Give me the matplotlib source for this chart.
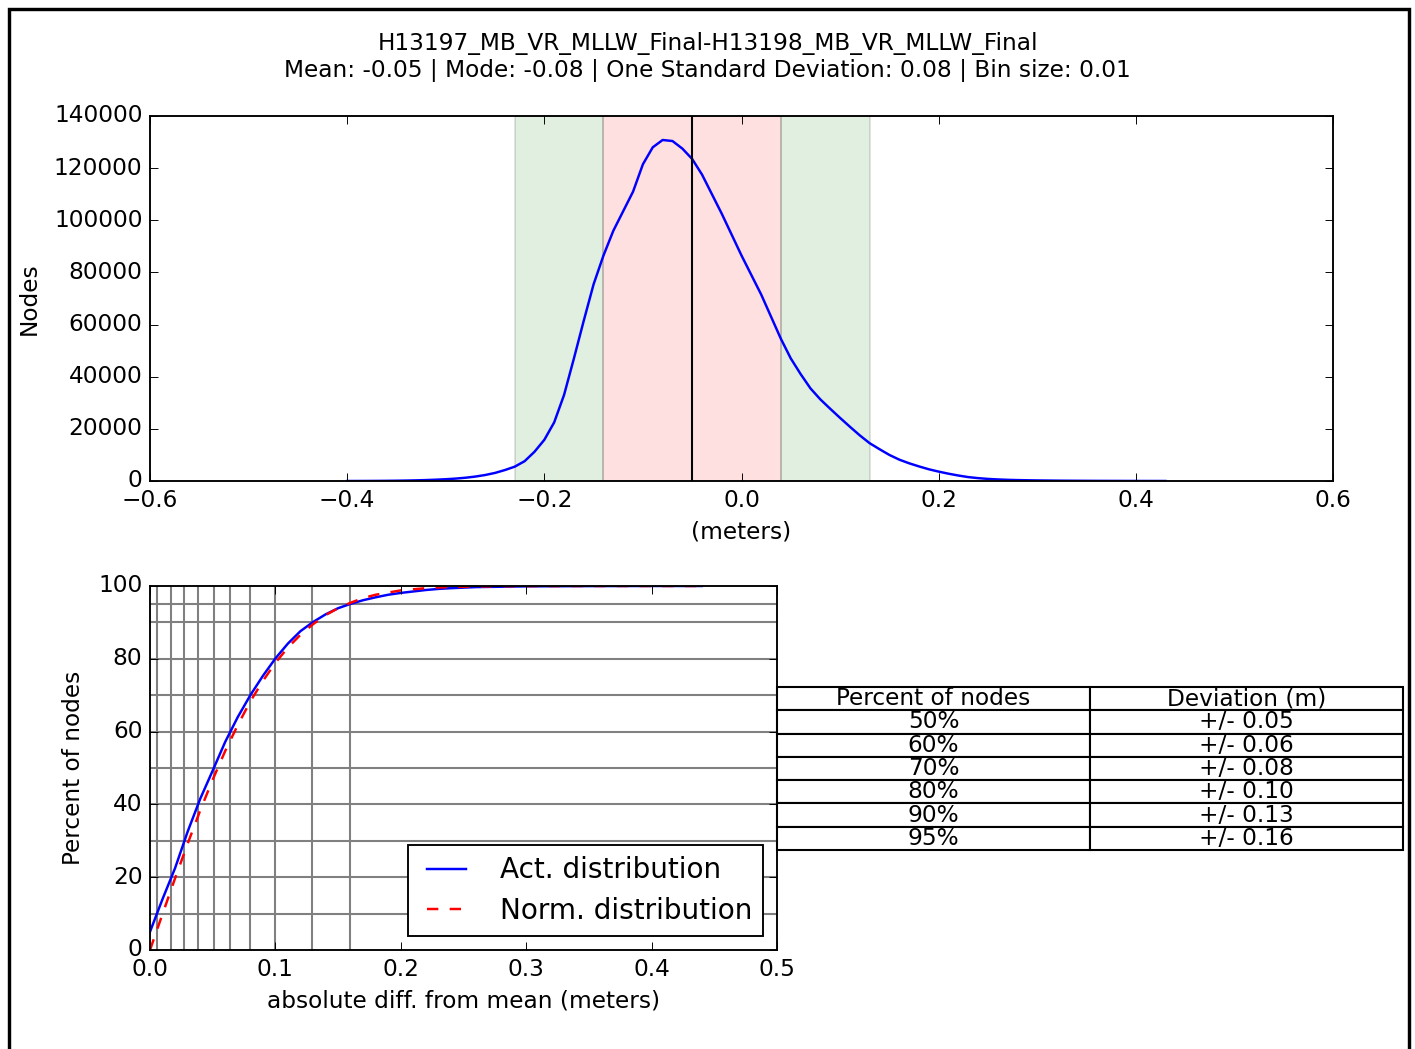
import numpy as np
import matplotlib
matplotlib.use("Agg")
import matplotlib.pyplot as plt
from matplotlib.lines import Line2D

plt.style.use("classic")
plt.rcParams["font.size"] = 12.3

title_name = "H13197_MB_VR_MLLW_Final-H13198_MB_VR_MLLW_Final"
mean_val = -0.05
mode_val = -0.08
std_val = 0.08
bin_size = 0.01

# histogram counts per 0.01 bin, starting at -0.40
hist_start = -0.40
node_counts = [
    0, 10, 20, 40, 70, 110, 170, 250, 360, 500,
    680, 920, 1250, 1700, 2300, 3100, 4200, 5500, 7600, 11200,
    15800, 22500, 33000, 47000, 61500, 75500, 86500, 96000, 103500, 111000,
    121500, 128000, 130800, 130400, 127500, 123500, 117500, 110000, 102500, 94500,
    86500, 79000, 71500, 63000, 54500, 47000, 41000, 35500, 31300, 27700,
    24200, 20800, 17500, 14500, 12200, 10000, 8200, 6800, 5600, 4500,
    3600, 2800, 2100, 1500, 1100, 800, 600, 450, 350, 280,
    220, 180, 140, 110, 90, 70, 55, 45, 35, 25,
    20, 15, 10, 5,
]

sd1_band = (-0.14, 0.04)
sd2_band = (-0.23, 0.13)

# cumulative curves (abs diff from mean)
cdf_x = [0.00, 0.01, 0.02, 0.03, 0.04, 0.05, 0.06, 0.07, 0.08, 0.09,
         0.10, 0.11, 0.12, 0.13, 0.14, 0.15, 0.16, 0.17, 0.18, 0.19,
         0.20, 0.21, 0.22, 0.23, 0.24, 0.25, 0.26, 0.28, 0.30, 0.35,
         0.40, 0.44]
act_pct = [5.0, 14.0, 22.5, 32.5, 41.5, 49.3, 57.2, 64.0, 70.0, 75.3,
           80.1, 84.2, 87.6, 90.1, 92.2, 93.9, 95.1, 96.1, 96.9, 97.6,
           98.1, 98.5, 98.9, 99.2, 99.4, 99.55, 99.7, 99.8, 99.9, 99.97,
           100.0, 100.0]
norm_pct = [0.0, 9.9, 19.7, 29.2, 38.3, 46.8, 54.7, 61.8, 68.3, 73.9,
            78.9, 83.1, 86.6, 89.5, 92.0, 93.9, 95.4, 96.7, 97.6, 98.2,
            98.8, 99.1, 99.4, 99.6, 99.7, 99.8, 99.88, 99.95, 99.98, 100.0,
            100.0, 100.0]

pct_levels = [10, 20, 30, 40, 50, 60, 70, 80, 90, 95]
dev_levels = [0.0053, 0.0166, 0.0271, 0.0381, 0.0509, 0.0637, 0.0801, 0.0997, 0.1294, 0.1593]

table_cols = ["Percent of nodes", "Deviation (m)"]
table_pcts = [50, 60, 70, 80, 90, 95]

W, H = 1415, 1049
DPI = 136
fig = plt.figure(figsize=(W / DPI, H / DPI), dpi=DPI, facecolor="white")

# ---- histogram ----
ax1 = fig.add_axes([150 / W, 1 - 481 / H, 1183 / W, 365 / H])
bin_x = np.round(hist_start + bin_size * np.arange(len(node_counts)), 2)
ax1.axvspan(sd2_band[0], sd1_band[0], facecolor="green", alpha=0.12)
ax1.axvspan(sd1_band[1], sd2_band[1], facecolor="green", alpha=0.12)
ax1.axvspan(sd1_band[0], sd1_band[1], facecolor="red", alpha=0.12)
ax1.plot(bin_x, node_counts, "b-", lw=1.3)
ax1.axvline(mean_val, color="k", lw=1.1)
ax1.set_xlim(-0.6, 0.6)
ax1.set_ylim(0, 140000)
ax1.set_xticks(np.arange(-0.6, 0.61, 0.2))
ax1.set_yticks(np.arange(0, 140001, 20000))
ax1.set_xlabel("(meters)")
ax1.set_ylabel("Nodes", labelpad=7)

fig.text(0.5, 1 - 57 / H,
         title_name + "\n" +
         "Mean: %.2f | Mode: %.2f | One Standard Deviation: %.2f | Bin size: %.2f"
         % (mean_val, mode_val, std_val, bin_size),
         ha="center", va="center")

# ---- cumulative ----
ax2 = fig.add_axes([150 / W, 1 - 950 / H, 627 / W, 364 / H])
for p in pct_levels:
    ax2.axhline(p, color="0.5", lw=1.1)
for d in dev_levels:
    ax2.axvline(d, color="0.5", lw=1.1)
ax2.plot(cdf_x, act_pct, "b-", lw=1.3, label="Act. distribution")
ax2.plot(cdf_x, norm_pct, "r--", lw=1.3, label="Norm. distribution")
ax2.set_xlim(0, 0.5)
ax2.set_ylim(0, 100)
ax2.set_xticks(np.arange(0, 0.51, 0.1))
ax2.set_yticks(np.arange(0, 101, 20))
ax2.set_xlabel("absolute diff. from mean (meters)")
ax2.set_ylabel("Percent of nodes", labelpad=7)
ax2.legend(loc="lower right", handletextpad=0.9, handlelength=2.0,
           labelspacing=0.45)

rows = []
for p in table_pcts:
    d = dev_levels[pct_levels.index(p)]
    rows.append(["%d%%" % p, "+/- %.2f" % d])
tab = ax2.table(cellText=rows, colLabels=table_cols, cellLoc="center",
                colLoc="center",
                bbox=[1.0, (950 - 850) / 364, (1403 - 777) / 627, (850 - 687) / 364])
tab.auto_set_font_size(False)
tab.set_fontsize(12.3)
for cell in tab.get_celld().values():
    cell.set_linewidth(1.1)
    cell.set_edgecolor("k")

# frame around figure (left, top, right)
px = 1.0 / W
py = 1.0 / H
fig.add_artist(Line2D([8.5 * px, 8.5 * px, 1409 * px, 1409 * px],
                      [0, 1 - 8.5 * py, 1 - 8.5 * py, 0],
                      transform=fig.transFigure, color="k", lw=1.8,
                      solid_joinstyle="miter"))

fig.savefig("out.png", dpi=DPI, facecolor="white")
